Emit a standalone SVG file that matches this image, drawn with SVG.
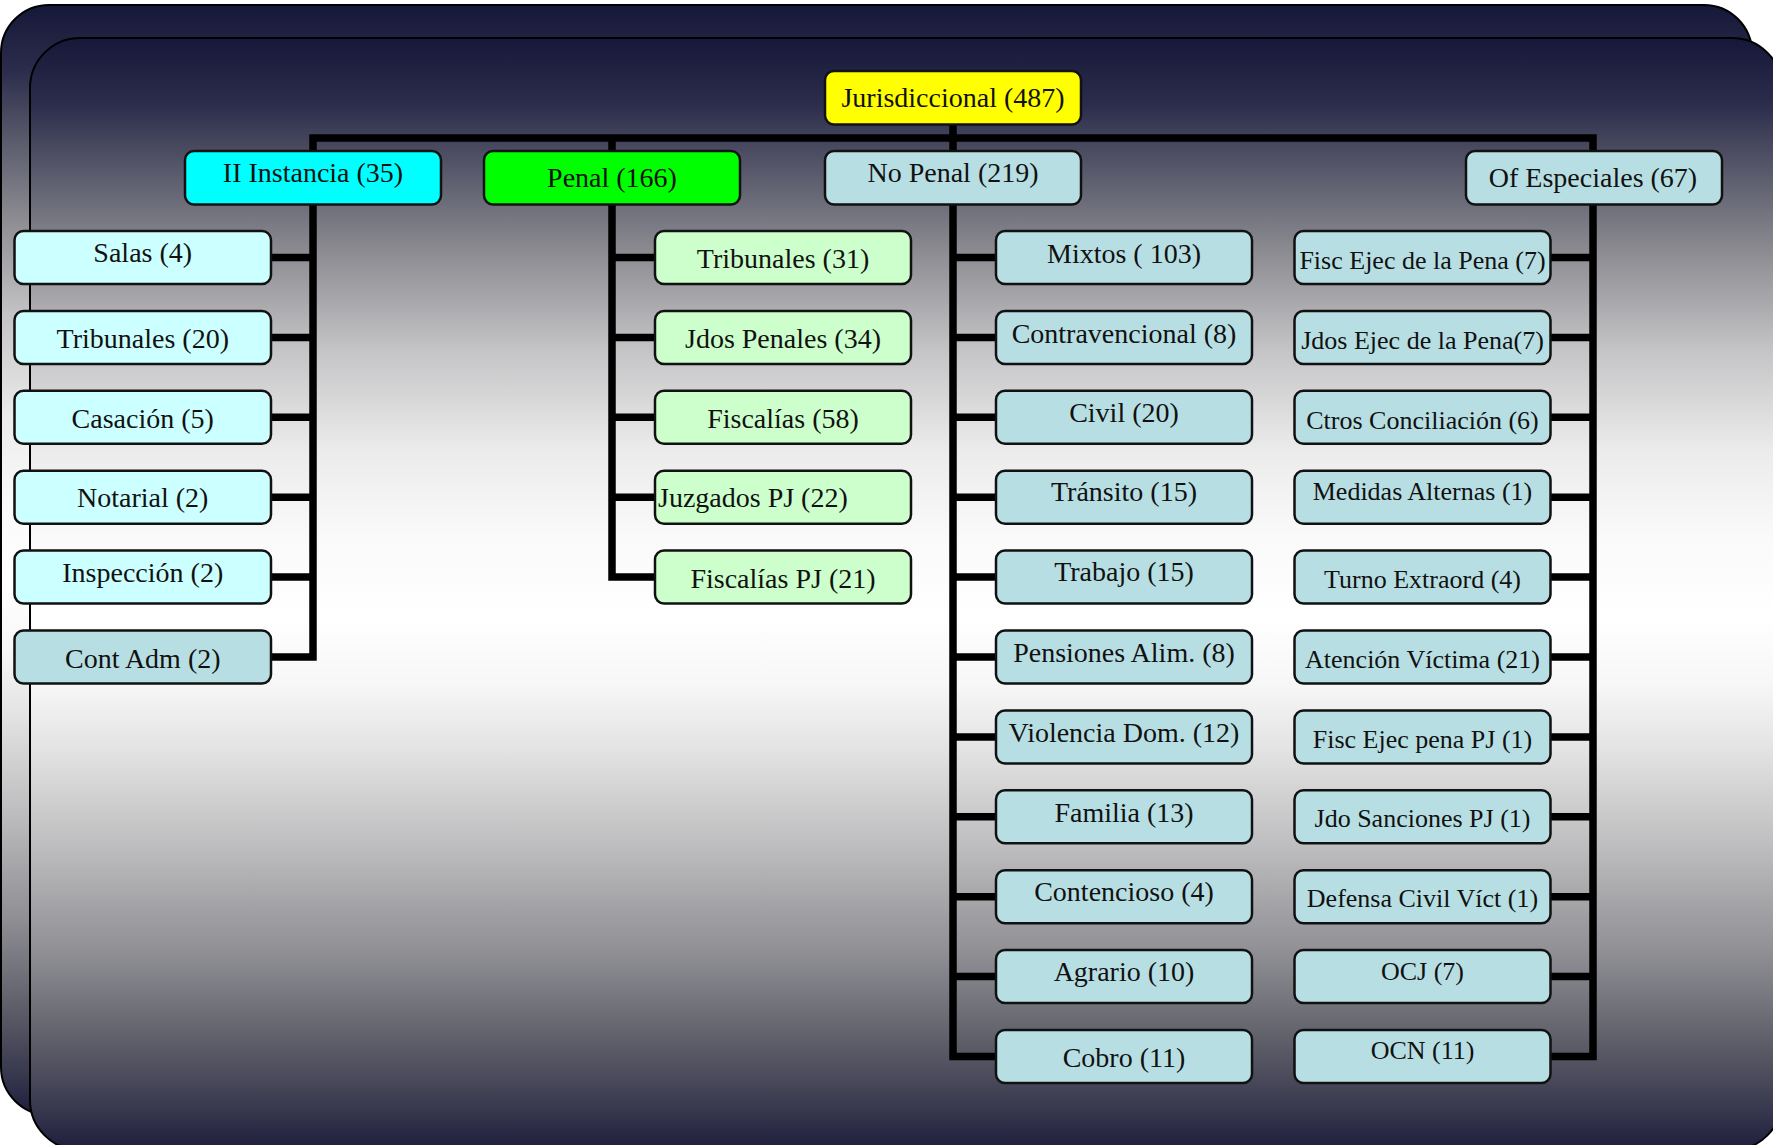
<svg xmlns="http://www.w3.org/2000/svg" width="1773" height="1145" viewBox="0 0 1773 1145">
<defs>
<linearGradient id="bg" x1="0" y1="0" x2="0" y2="1">
<stop offset="0" stop-color="#161839"/>
<stop offset="0.06" stop-color="#2c2d4c"/>
<stop offset="0.10" stop-color="#4a4b60"/>
<stop offset="0.19" stop-color="#8a8a90"/>
<stop offset="0.28" stop-color="#c4c4c6"/>
<stop offset="0.37" stop-color="#ebebeb"/>
<stop offset="0.45" stop-color="#fafafa"/>
<stop offset="0.52" stop-color="#ffffff"/>
<stop offset="0.58" stop-color="#f7f7f7"/>
<stop offset="0.64" stop-color="#e3e3e3"/>
<stop offset="0.73" stop-color="#bcbcbe"/>
<stop offset="0.82" stop-color="#909095"/>
<stop offset="0.91" stop-color="#5a5a66"/>
<stop offset="0.96" stop-color="#3a3a50"/>
<stop offset="1" stop-color="#1e1e3e"/>
</linearGradient>
</defs>
<style>
.panel{fill:url(#bg);stroke:#000;stroke-width:2}
.conn{fill:none;stroke:#000;stroke-width:7.5;stroke-linejoin:miter}
.box{stroke:#111;stroke-width:2.5}
.yel{fill:#ffff00}.cy{fill:#00ffff}.gr{fill:#00ff00}.lb{fill:#b7dfe3}.lc{fill:#ccffff}.lg{fill:#ccffcc}
text{font-family:"Liberation Serif","Times New Roman",serif;fill:#111;text-anchor:middle}
.t28{font-size:28px}.t26{font-size:26px}
</style>
<rect class="panel" x="1" y="5" width="1751" height="1110" rx="48" ry="48"/>
<rect class="panel" x="30" y="38" width="1752" height="1112" rx="50" ry="50"/>
<g id="connectors">
<path class="conn" d="M313 152 V138 H1593 V152 M612 138 V152 M953 124 V152"/>
<path class="conn" d="M313 204 V657 H271 M271 257.5 H313 M271 337.4 H313 M271 417.3 H313 M271 497.2 H313 M271 577.1 H313"/>
<path class="conn" d="M612 204 V577.1 H655 M655 257.5 H612 M655 337.4 H612 M655 417.3 H612 M655 497.2 H612"/>
<path class="conn" d="M953 204 V1056.5 H996 M996 257.5 H953 M996 337.4 H953 M996 417.3 H953 M996 497.2 H953 M996 577.1 H953 M996 657 H953 M996 736.9 H953 M996 816.8 H953 M996 896.7 H953 M996 976.6 H953"/>
<path class="conn" d="M1593 204 V1056.5 H1550 M1550 257.5 H1593 M1550 337.4 H1593 M1550 417.3 H1593 M1550 497.2 H1593 M1550 577.1 H1593 M1550 657 H1593 M1550 736.9 H1593 M1550 816.8 H1593 M1550 896.7 H1593 M1550 976.6 H1593"/>
</g>
<g id="n-jurisdiccional"><rect class="box yel" x="825" y="71" width="256" height="53.5" rx="9"/><text class="t28" x="953" y="106.7">Jurisdiccional (487)</text></g>
<g id="n-iinstancia"><rect class="box cy" x="185" y="151" width="256" height="53.5" rx="9"/><text class="t28" x="313" y="181.7">II Instancia (35)</text></g>
<g id="n-penal"><rect class="box gr" x="484" y="151" width="256" height="53.5" rx="9"/><text class="t28" x="612" y="186.7">Penal (166)</text></g>
<g id="n-nopenal"><rect class="box lb" x="825" y="151" width="256" height="53.5" rx="9"/><text class="t28" x="953" y="181.7">No Penal (219)</text></g>
<g id="n-ofesp"><rect class="box lb" x="1466" y="151" width="256" height="53.5" rx="9"/><text class="t28" x="1593" y="187">Of Especiales (67)</text></g>

<g id="n-salas"><rect class="box lc" x="14.5" y="231" width="256.5" height="53" rx="9"/><text class="t28" x="142.75" y="262.3">Salas (4)</text></g>
<g id="n-tribunales20"><rect class="box lc" x="14.5" y="310.9" width="256.5" height="53" rx="9"/><text class="t28" x="142.75" y="348.3">Tribunales (20)</text></g>
<g id="n-casacion"><rect class="box lc" x="14.5" y="390.8" width="256.5" height="53" rx="9"/><text class="t28" x="142.75" y="428.3">Casación (5)</text></g>
<g id="n-notarial"><rect class="box lc" x="14.5" y="470.7" width="256.5" height="53" rx="9"/><text class="t28" x="142.75" y="507.3">Notarial (2)</text></g>
<g id="n-inspeccion"><rect class="box lc" x="14.5" y="550.6" width="256.5" height="53" rx="9"/><text class="t28" x="142.75" y="582.3">Inspección (2)</text></g>
<g id="n-contadm"><rect class="box lb" x="14.5" y="630.5" width="256.5" height="53" rx="9"/><text class="t28" x="142.75" y="668.4">Cont Adm (2)</text></g>

<g id="n-tribunales31"><rect class="box lg" x="655" y="231" width="256" height="53" rx="9"/><text class="t28" x="783" y="268.3">Tribunales (31)</text></g>
<g id="n-jdospenales"><rect class="box lg" x="655" y="310.9" width="256" height="53" rx="9"/><text class="t28" x="783" y="348.3">Jdos Penales (34)</text></g>
<g id="n-fiscalias"><rect class="box lg" x="655" y="390.8" width="256" height="53" rx="9"/><text class="t28" x="783" y="428.3">Fiscalías (58)</text></g>
<g id="n-juzgadospj"><rect class="box lg" x="655" y="470.7" width="256" height="53" rx="9"/><text class="t28" x="658" y="507.3" style="text-anchor:start">Juzgados PJ (22)</text></g>
<g id="n-fiscaliaspj"><rect class="box lg" x="655" y="550.6" width="256" height="53" rx="9"/><text class="t28" x="783" y="587.7">Fiscalías PJ (21)</text></g>

<g id="n-mixtos"><rect class="box lb" x="996" y="231" width="256" height="53" rx="9"/><text class="t28" x="1124" y="262.7">Mixtos ( 103)</text></g>
<g id="n-contravencional"><rect class="box lb" x="996" y="310.9" width="256" height="53" rx="9"/><text class="t28" x="1124" y="342.7">Contravencional (8)</text></g>
<g id="n-civil"><rect class="box lb" x="996" y="390.8" width="256" height="53" rx="9"/><text class="t28" x="1124" y="421.7">Civil (20)</text></g>
<g id="n-transito"><rect class="box lb" x="996" y="470.7" width="256" height="53" rx="9"/><text class="t28" x="1124" y="501">Tránsito (15)</text></g>
<g id="n-trabajo"><rect class="box lb" x="996" y="550.6" width="256" height="53" rx="9"/><text class="t28" x="1124" y="581">Trabajo (15)</text></g>
<g id="n-pensiones"><rect class="box lb" x="996" y="630.5" width="256" height="53" rx="9"/><text class="t28" x="1124" y="661.7">Pensiones Alim. (8)</text></g>
<g id="n-violencia"><rect class="box lb" x="996" y="710.4" width="256" height="53" rx="9"/><text class="t28" x="1124" y="741.7">Violencia Dom. (12)</text></g>
<g id="n-familia"><rect class="box lb" x="996" y="790.3" width="256" height="53" rx="9"/><text class="t28" x="1124" y="821.7">Familia (13)</text></g>
<g id="n-contencioso"><rect class="box lb" x="996" y="870.2" width="256" height="53" rx="9"/><text class="t28" x="1124" y="900.7">Contencioso (4)</text></g>
<g id="n-agrario"><rect class="box lb" x="996" y="950.1" width="256" height="53" rx="9"/><text class="t28" x="1124" y="981">Agrario (10)</text></g>
<g id="n-cobro"><rect class="box lb" x="996" y="1030" width="256" height="53" rx="9"/><text class="t28" x="1124" y="1067">Cobro (11)</text></g>

<g id="n-fiscejec"><rect class="box lb" x="1294.5" y="231" width="256" height="53" rx="9"/><text class="t26" x="1422.5" y="269">Fisc Ejec de la Pena (7)</text></g>
<g id="n-jdosejec"><rect class="box lb" x="1294.5" y="310.9" width="256" height="53" rx="9"/><text class="t26" x="1422.5" y="349">Jdos Ejec de la Pena(7)</text></g>
<g id="n-ctros"><rect class="box lb" x="1294.5" y="390.8" width="256" height="53" rx="9"/><text class="t26" x="1422.5" y="429">Ctros Conciliación (6)</text></g>
<g id="n-medidas"><rect class="box lb" x="1294.5" y="470.7" width="256" height="53" rx="9"/><text class="t26" x="1422.5" y="500.3">Medidas Alternas (1)</text></g>
<g id="n-turno"><rect class="box lb" x="1294.5" y="550.6" width="256" height="53" rx="9"/><text class="t26" x="1422.5" y="587.7">Turno Extraord (4)</text></g>
<g id="n-atencion"><rect class="box lb" x="1294.5" y="630.5" width="256" height="53" rx="9"/><text class="t26" x="1422.5" y="668.3">Atención Víctima (21)</text></g>
<g id="n-fiscejecpj"><rect class="box lb" x="1294.5" y="710.4" width="256" height="53" rx="9"/><text class="t26" x="1422.5" y="747.7">Fisc Ejec pena PJ (1)</text></g>
<g id="n-jdosanciones"><rect class="box lb" x="1294.5" y="790.3" width="256" height="53" rx="9"/><text class="t26" x="1422.5" y="827.3">Jdo Sanciones PJ (1)</text></g>
<g id="n-defensa"><rect class="box lb" x="1294.5" y="870.2" width="256" height="53" rx="9"/><text class="t26" x="1422.5" y="906.7">Defensa Civil Víct (1)</text></g>
<g id="n-ocj"><rect class="box lb" x="1294.5" y="950.1" width="256" height="53" rx="9"/><text class="t26" x="1422.5" y="980">OCJ (7)</text></g>
<g id="n-ocn"><rect class="box lb" x="1294.5" y="1030" width="256" height="53" rx="9"/><text class="t26" x="1422.5" y="1059.3">OCN (11)</text></g>
</svg>
